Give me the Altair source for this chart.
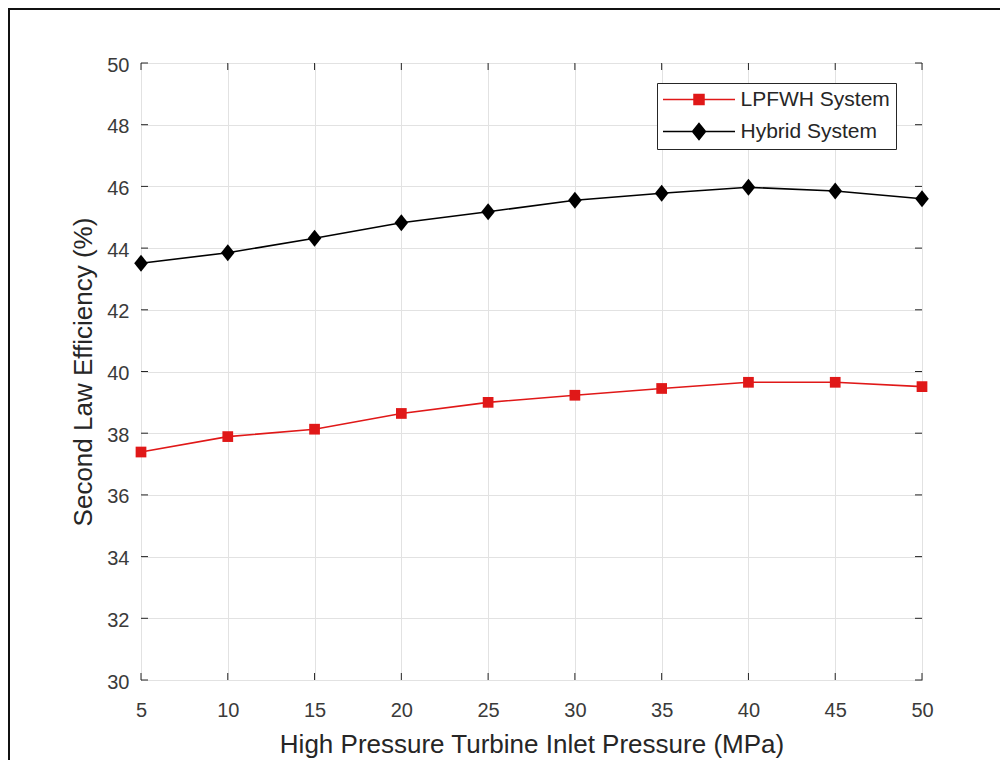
import altair as alt
import pandas as pd

pressure = [5, 10, 15, 20, 25, 30, 35, 40, 45, 50]
lpfwh = [37.39, 37.89, 38.13, 38.64, 39.00, 39.23, 39.45, 39.65, 39.65, 39.51]
hybrid = [43.51, 43.85, 44.32, 44.82, 45.18, 45.55, 45.78, 45.97, 45.85, 45.60]
series_names = ["LPFWH System", "Hybrid System"]
series_colors = ["#e01818", "#000000"]
x_ticks = [5, 10, 15, 20, 25, 30, 35, 40, 45, 50]
y_ticks = [30, 32, 34, 36, 38, 40, 42, 44, 46, 48, 50]

W, H = 781, 617
FONT = "Liberation Sans"
AX = "#262626"

rows = []
for name, vals in zip(series_names, [lpfwh, hybrid]):
    for p, v in zip(pressure, vals):
        rows.append({"p": p, "eff": v, "series": name})
df = pd.DataFrame(rows)

xs = alt.Scale(domain=[5, 50], nice=False, zero=False)
ys = alt.Scale(domain=[30, 50], nice=False, zero=False)

x_enc = alt.X("p:Q", scale=xs, axis=alt.Axis(
    values=x_ticks, title="High Pressure Turbine Inlet Pressure (MPa)",
    labelPadding=20, labelFlush=False, titleBaseline="alphabetic", titleY=72, format="d"))
y_enc = alt.Y("eff:Q", scale=ys, axis=alt.Axis(
    values=y_ticks, title="Second Law Efficiency (%)",
    labelPadding=12, labelFlush=False, labelOffset=2,
    titleBaseline="alphabetic", titleX=-50, format="d"))
x_plain = alt.X("p:Q", scale=xs)
y_plain = alt.Y("eff:Q", scale=ys)

# legend symbol paths (line through marker) and plot marker paths
sq_legend = "M-7.2,0H7.2M-1,-1H1V1H-1Z"
di_legend = "M-7.2,0H7.2M0,-1.6L1.3,0L0,1.6L-1.3,0Z"
diamond = "M0,-1L0.8,0L0,1L-0.8,0Z"

marker_shapes = ["square", diamond]
marker_sizes = [115, 289]

layers = []

# decorative outer figure frame
frame_df = pd.DataFrame({"a": [0]})
layers.append(alt.Chart(frame_df).mark_rule(color="#111111", strokeWidth=2).encode(
    x=alt.value(-133), x2=alt.value(W + 80), y=alt.value(-54)))
layers.append(alt.Chart(frame_df).mark_rule(color="#111111", strokeWidth=2).encode(
    x=alt.value(-132), y=alt.value(-56), y2=alt.value(H + 80)))

# inward ticks on all four sides
ytick_df = pd.DataFrame({"eff": y_ticks})
xtick_df = pd.DataFrame({"p": x_ticks})
tick_style = dict(color=AX, strokeWidth=1)
layers.append(alt.Chart(ytick_df).mark_rule(**tick_style).encode(
    y=y_enc, x=alt.value(0), x2=alt.value(7)))
layers.append(alt.Chart(ytick_df).mark_rule(**tick_style).encode(
    y=y_plain, x=alt.value(W - 7), x2=alt.value(W)))
layers.append(alt.Chart(xtick_df).mark_rule(**tick_style).encode(
    x=x_enc, y=alt.value(H), y2=alt.value(H - 7)))
layers.append(alt.Chart(xtick_df).mark_rule(**tick_style).encode(
    x=x_plain, y=alt.value(0), y2=alt.value(7)))

# series lines and markers
for name, col, shp, sz in zip(series_names, series_colors, marker_shapes, marker_sizes):
    base = alt.Chart(df).transform_filter(alt.datum.series == name)
    layers.append(base.mark_line(color=col, strokeWidth=1.6).encode(x=x_plain, y=y_plain))
    layers.append(base.mark_point(filled=True, color=col, shape=shp, size=sz,
                                  opacity=1, strokeWidth=0).encode(x=x_plain, y=y_plain))

# legend (scales only, no drawn marks)
legend_layer = alt.Chart(df).transform_filter("false").mark_point(
    filled=True, opacity=1, strokeWidth=1.5
).encode(
    x=x_plain, y=y_plain,
    fill=alt.Fill("series:N", scale=alt.Scale(domain=series_names, range=series_colors),
                  legend=alt.Legend(title=None)),
    stroke=alt.Stroke("series:N", scale=alt.Scale(domain=series_names, range=series_colors),
                      legend=alt.Legend(title=None)),
    shape=alt.Shape("series:N", scale=alt.Scale(domain=series_names, range=[sq_legend, di_legend]),
                    legend=alt.Legend(title=None)),
)
layers.append(legend_layer)

chart = alt.layer(*layers).properties(
    width=W, height=H,
    autosize=alt.AutoSizeParams(type="none"),
    padding={"left": 133, "top": 55, "right": 78, "bottom": 80},
    background="white",
).configure_view(
    stroke=AX, strokeWidth=1
).configure_axis(
    domain=False, ticks=False, tickSize=0,
    grid=True, gridColor="#e2e2e2", gridWidth=1,
    labelFont=FONT, labelFontSize=20, labelColor="#3a3a3a",
    titleFont=FONT, titleFontSize=26, titleFontWeight="normal", titleColor=AX,
).configure_legend(
    orient="none", legendX=516, legendY=20,
    padding=6, strokeColor=AX, fillColor="white",
    labelFont=FONT, labelFontSize=21, labelColor=AX,
    symbolSize=100, symbolOffset=25.5, labelOffset=31, rowPadding=10,
    symbolStrokeWidth=1.5,
)

chart.save("out.html", embed_options={"renderer": "svg", "actions": False})
